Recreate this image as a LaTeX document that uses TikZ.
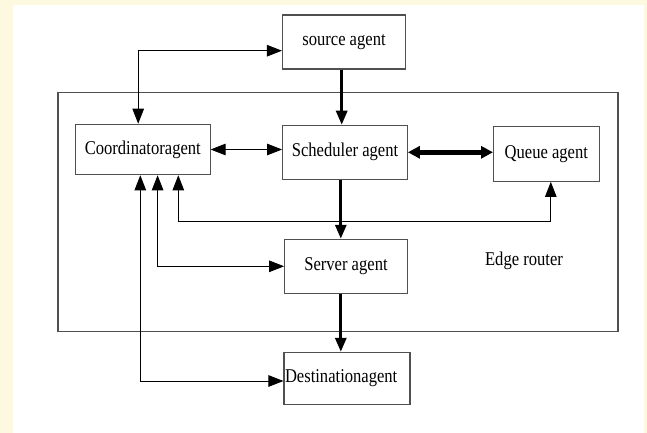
\documentclass[tikz,border=0pt]{standalone}
\usepackage{fontspec}
\setmainfont{Liberation Serif}[FakeStretch=0.85]
\usepackage{xcolor}
\usetikzlibrary{arrows.meta}
\definecolor{cream}{HTML}{FCF9E0}
\definecolor{boxline}{HTML}{505050}

\begin{document}
\begin{tikzpicture}[x=1pt,y=-1pt,
 agent/.style={draw=boxline,line width=1.1pt,font=\fontsize{19.5}{22}\selectfont,inner sep=0pt},
 thinarr/.style={line width=0.9pt,{Triangle[length=15pt,width=11.5pt]}-{Triangle[length=15pt,width=11.5pt]}},
 thickarr/.style={line width=3pt,-{Triangle[length=14pt,width=11pt]}},
 fatarr/.style={line width=5pt,{Triangle[length=12pt,width=12pt]}-{Triangle[length=12pt,width=12pt]}}]
\fill[cream](0,0)rectangle(647,433);
\fill[white](13,5)rectangle(644,433);
\useasboundingbox(0,0)rectangle(647,433);
\node[draw=boxline,line width=1.1pt,minimum width=560pt,minimum height=239pt](router)at(338,211.6){};
\node[font=\fontsize{19.5}{22}\selectfont](routerlabel)at(524,261){Edge router};
\node[agent,minimum width=123pt,minimum height=54pt](source)at(344,42){source agent};
\node[agent,minimum width=134.5pt,minimum height=50.4pt](coord)at(142.8,149.5){Coordinatoragent};
\node[agent,minimum width=124.7pt,minimum height=54pt](sched)at(345,152.3){Scheduler agent};
\node[agent,minimum width=105.5pt,minimum height=55pt](queue)at(546.3,153.8){Queue agent};
\node[agent,minimum width=122.6pt,minimum height=54pt](server)at(346,266.3){Server agent};
\node[agent,text width=124pt,minimum height=51.7pt,align=left,inner xsep=1pt](dest)at(347,378.2){Destinationagent};
\draw[thinarr]([xshift=-4.6pt]coord.north)|-([yshift=-8.7pt]source.west);
\draw[thickarr]([xshift=-2.3pt]source.south)--([xshift=-2.3pt]source.south|-sched.north);
\draw[thinarr](coord.east)--(coord.east-|sched.west);
\draw[fatarr](sched.east)--(sched.east-|queue.west);
\draw[thickarr]([xshift=-4.2pt]sched.south)--([xshift=-4.2pt]sched.south|-server.north);
\draw[thinarr]([xshift=35.5pt]coord.south)--++(0,46.3)-|([xshift=4.5pt]queue.south);
\draw[thinarr]([xshift=14.8pt]coord.south)|-(server.west);
\draw[thinarr]([xshift=-2.5pt]coord.south)|-([yshift=-2.8pt]dest.west);
\draw[thickarr]([xshift=-5.2pt]server.south)--([xshift=-5.2pt]server.south|-dest.north);
\end{tikzpicture}
\end{document}
